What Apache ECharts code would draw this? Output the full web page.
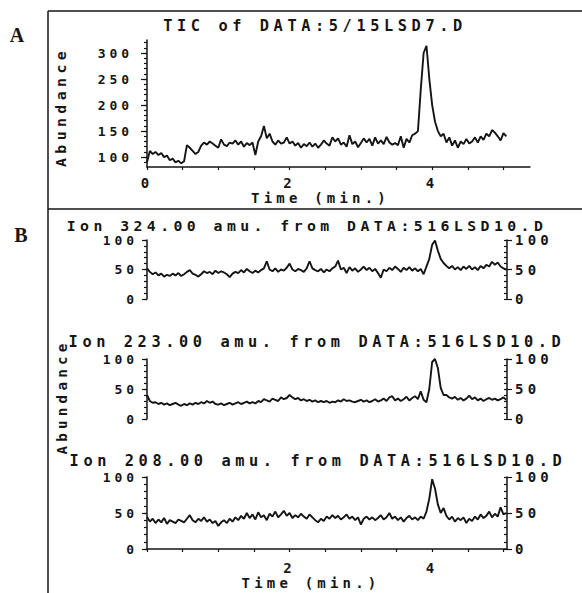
<!DOCTYPE html>
<html>
<head>
<meta charset="utf-8">
<script src="https://cdn.jsdelivr.net/npm/echarts@6/dist/echarts.min.js"></script>
<style>
html,body{margin:0;padding:0;background:#fff;}
#chart{width:582px;height:593px;}
#chart text{letter-spacing:0.3em;}
</style>
</head>
<body>
<div id="chart"></div>
<script>
// ---- data ----
const timeStep = 0.04; // minutes between samples
const ticTitle = 'TIC of DATA:5/15LSD7.D';
const ionTitles = [
  'Ion 324.00 amu. from DATA:516LSD10.D',
  'Ion 223.00 amu. from DATA:516LSD10.D',
  'Ion 208.00 amu. from DATA:516LSD10.D'
];
const axisNameY = 'Abundance';
const axisNameX = 'Time (min.)';
const ticYLabels = [100, 150, 200, 250, 300];
const ticYMinor = [90,100,110,120,130,140,150,160,170,180,190,200,210,220,230,240,250,260,270,280,290,300,310,320];
const ionYLabels = [0, 50, 100];
const ionYMinor = [0,10,20,30,40,50,60,70,80,90,100];
const timeTicks = [0,0.5,1,1.5,2,2.5,3,3.5,4,4.5,5];
const ticTimeLabels = [0, 2, 4];
const ionTimeLabels = [2, 4];

const ticValues = [
  90,112,106,110,104,108,100,103,94,97,
  90,93,88,92,123,118,112,106,110,122,
  128,124,130,126,122,118,134,124,121,128,
  126,132,124,130,120,127,123,128,104,130,
  140,160,136,145,130,124,132,126,128,138,
  126,130,122,127,118,125,121,128,120,126,
  118,124,132,126,122,138,130,136,124,128,
  120,142,125,130,119,127,136,128,135,122,
  138,126,132,125,139,128,124,127,123,140,
  118,135,128,142,145,150,230,300,314,250,
  200,168,150,140,145,128,138,122,132,118,
  130,125,135,126,130,138,128,140,133,145,
  140,152,147,140,132,146,140
];
const ion324 = [
  52,46,42,45,40,43,38,41,39,43,
  40,44,39,42,46,49,43,41,38,42,
  47,44,46,42,48,44,47,45,42,37,
  43,46,44,49,45,51,47,44,48,45,
  49,52,64,50,47,52,46,50,48,53,
  60,50,47,51,49,46,52,64,52,49,
  47,51,45,50,47,52,55,65,50,53,
  44,54,48,52,46,50,55,49,53,47,
  51,44,36,50,47,53,49,55,51,46,
  53,49,54,48,52,47,51,42,55,68,
  92,99,82,68,61,56,52,56,50,54,
  49,55,51,56,50,54,49,56,52,58,
  55,63,58,62,55,52,50
];
const ion223 = [
  40,30,27,28,25,27,24,26,23,25,
  27,24,22,25,23,26,24,27,25,28,
  26,30,27,29,25,24,26,23,25,27,
  24,26,28,25,27,29,26,28,26,30,
  28,33,31,29,34,32,30,36,33,35,
  40,36,33,35,31,33,30,32,29,31,
  28,30,28,30,27,29,28,31,29,33,
  30,31,29,28,30,32,29,31,28,30,
  33,29,31,34,30,36,38,31,34,30,
  33,37,31,35,38,33,46,32,28,50,
  95,100,85,52,40,40,36,34,37,32,
  35,31,34,39,33,36,31,34,30,33,
  35,32,34,31,33,36,32
];
const ion208 = [
  45,38,42,36,41,37,43,35,40,38,
  36,41,39,37,42,47,40,37,42,39,
  44,38,41,36,39,32,37,40,36,42,
  38,44,40,46,42,50,43,48,41,51,
  44,47,40,49,45,52,44,48,53,46,
  50,43,47,44,49,45,42,48,44,40,
  37,42,39,45,42,47,43,46,41,44,
  48,42,45,40,44,34,42,45,41,44,
  40,43,47,41,44,50,42,45,40,44,
  38,43,46,41,44,40,45,42,52,70,
  97,84,62,50,57,46,41,45,38,43,
  40,44,36,42,39,45,41,48,43,46,
  52,44,49,45,58,48,50
];

// ---- styling ----
const ink = '#151515';
const mono = 'DejaVu Sans Mono';

function toPairs(vals) {
  return vals.map((v, i) => [+(i * timeStep).toFixed(2), v]);
}

const grids = [
  {left: 147, top: 40, width: 383, height: 127},
  {left: 147, top: 240, width: 360, height: 59},
  {left: 147, top: 359, width: 360, height: 60},
  {left: 147, top: 477, width: 360, height: 72}
];

const axisLineStyle = {show: true, lineStyle: {color: ink, width: 1.5}};
const tickLine = {color: ink, width: 1.2};
const txt = {color: ink, fontFamily: mono, fontWeight: 'bold'};

const xAxes = [
  {gridIndex: 0, type: 'value', min: 0, max: 5.372,
   axisLine: axisLineStyle,
   axisTick: {show: true, customValues: timeTicks, length: 3, lineStyle: tickLine},
   axisLabel: Object.assign({customValues: ticTimeLabels, fontSize: 14, margin: 9}, txt),
   splitLine: {show: false},
   name: axisNameX, nameLocation: 'middle', nameGap: 24,
   nameTextStyle: Object.assign({fontSize: 14, padding: [0, 36, 0, 0]}, txt)},
  {gridIndex: 1, type: 'value', min: 0, max: 5.05, show: false},
  {gridIndex: 2, type: 'value', min: 0, max: 5.05, show: false},
  {gridIndex: 3, type: 'value', min: 0, max: 5.05,
   axisLine: axisLineStyle,
   axisTick: {show: true, customValues: timeTicks, length: 3, lineStyle: tickLine},
   axisLabel: Object.assign({customValues: ionTimeLabels, fontSize: 14, margin: 12}, txt),
   splitLine: {show: false},
   name: axisNameX, nameLocation: 'middle', nameGap: 27,
   nameTextStyle: Object.assign({fontSize: 14, padding: [0, 32, 0, 0]}, txt)}
];

const yAxes = [];
// TIC panel
yAxes.push({gridIndex: 0, type: 'value', min: 81, max: 325, position: 'left',
  axisLine: axisLineStyle,
  axisTick: {show: true, customValues: ticYLabels, length: 6, lineStyle: tickLine},
  axisLabel: Object.assign({customValues: ticYLabels, fontSize: 13, margin: 14}, txt),
  splitLine: {show: false}});
yAxes.push({gridIndex: 0, type: 'value', min: 81, max: 325, position: 'left',
  axisLine: {show: false},
  axisTick: {show: true, customValues: ticYMinor, length: 3, lineStyle: tickLine},
  axisLabel: {show: false}, splitLine: {show: false}});
const ionMainAxis = [];
for (let g = 1; g <= 3; g++) {
  ionMainAxis.push(yAxes.length);
  yAxes.push({gridIndex: g, type: 'value', min: 0, max: 100, position: 'left',
    axisLine: axisLineStyle,
    axisTick: {show: true, customValues: ionYLabels, length: 5, lineStyle: tickLine},
    axisLabel: Object.assign({customValues: ionYLabels, fontSize: 13, margin: 9}, txt),
    splitLine: {show: false}});
  yAxes.push({gridIndex: g, type: 'value', min: 0, max: 100, position: 'left',
    axisLine: {show: false},
    axisTick: {show: true, customValues: ionYMinor, length: 3, lineStyle: tickLine},
    axisLabel: {show: false}, splitLine: {show: false}});
  yAxes.push({gridIndex: g, type: 'value', min: 0, max: 100, position: 'right',
    axisLine: axisLineStyle,
    axisTick: {show: true, customValues: ionYLabels, length: 5, lineStyle: tickLine},
    axisLabel: Object.assign({customValues: ionYLabels, fontSize: 14, margin: 8}, txt),
    splitLine: {show: false}});
  yAxes.push({gridIndex: g, type: 'value', min: 0, max: 100, position: 'right',
    axisLine: {show: false},
    axisTick: {show: true, inside: true, customValues: ionYMinor, length: 3, lineStyle: tickLine},
    axisLabel: {show: false}, splitLine: {show: false}});
}

function lineSeries(vals, xi, yi) {
  return {type: 'line', xAxisIndex: xi, yAxisIndex: yi, data: toPairs(vals),
    showSymbol: false, symbol: 'none', silent: true,
    lineStyle: {color: ink, width: 1.9}};
}

function label(text, x, y, size, opts) {
  return Object.assign({type: 'text', x: x, y: y, silent: true,
    style: {text: text, fontSize: size, fontFamily: mono, fontWeight: 'bold', fill: ink,
      align: 'center', verticalAlign: 'middle',
      textAlign: 'center', textVerticalAlign: 'middle'}}, opts || {});
}

const frame = {stroke: ink, lineWidth: 1.5};

const option = {
  animation: false,
  backgroundColor: '#fff',
  grid: grids,
  xAxis: xAxes,
  yAxis: yAxes,
  series: [
    lineSeries(ticValues, 0, 0),
    lineSeries(ion324, 1, ionMainAxis[0]),
    lineSeries(ion223, 2, ionMainAxis[1]),
    lineSeries(ion208, 3, ionMainAxis[2])
  ],
  graphic: [
    {type: 'line', silent: true, shape: {x1: 48, y1: 11, x2: 582, y2: 11}, style: frame},
    {type: 'line', silent: true, shape: {x1: 48, y1: 11, x2: 48, y2: 593}, style: frame},
    {type: 'line', silent: true, shape: {x1: 48, y1: 209, x2: 582, y2: 209}, style: frame},
    {type: 'text', x: 20, y: 35, silent: true,
     style: {text: 'A', fontSize: 20, fontWeight: 'bold', fontFamily: 'Liberation Serif', fill: ink,
       align: 'center', verticalAlign: 'middle', textAlign: 'center', textVerticalAlign: 'middle'}},
    {type: 'text', x: 24, y: 235, silent: true,
     style: {text: 'B', fontSize: 20, fontWeight: 'bold', fontFamily: 'Liberation Serif', fill: ink,
       align: 'center', verticalAlign: 'middle', textAlign: 'center', textVerticalAlign: 'middle'}},
    label(ticTitle, 315, 26, 15.3),
    label(ionTitles[0], 307, 225, 14.8),
    label(ionTitles[1], 317, 342, 15.3),
    label(ionTitles[2], 318, 461, 15.3),
    label(axisNameY, 60, 107, 14.8, {rotation: Math.PI / 2}),
    label(axisNameY, 62, 397, 14.2, {rotation: Math.PI / 2})
  ]
};

const chart = echarts.init(document.getElementById('chart'), null, {renderer: 'svg', width: 582, height: 593});
chart.setOption(option);
</script>
</body>
</html>
